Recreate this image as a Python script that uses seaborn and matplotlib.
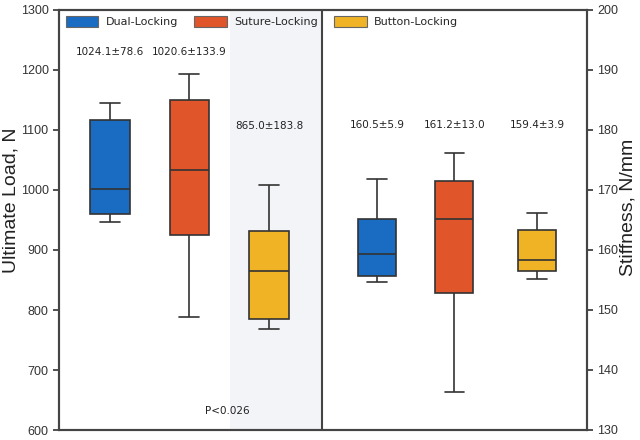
import pandas as pd
import matplotlib
matplotlib.use("Agg")
import matplotlib.pyplot as plt
from matplotlib.patches import Patch
import seaborn as sns

# groups and where the boxes sit on the shared x axis
groups = ["Dual-Locking", "Suture-Locking", "Button-Locking"]
colors = ["#1a6bc2", "#e0562a", "#efb325"]
load_pos = [0, 1, 2]
stiff_pos = [3.36, 4.33, 5.37]

# ultimate load (N): five-number summaries
load_min = [947, 788, 768]
load_q1 = [960, 925, 785]
load_med = [1002, 1033, 865]
load_q3 = [1117, 1150, 932]
load_max = [1145, 1193, 1008]
load_mean = [1024.1, 1020.6, 865.0]
load_sd = [78.6, 133.9, 183.8]

# stiffness (N/mm)
stiff_min = [154.6, 136.3, 155.2]
stiff_q1 = [155.6, 152.8, 156.5]
stiff_med = [159.4, 165.2, 158.4]
stiff_q3 = [165.2, 171.5, 163.3]
stiff_max = [171.8, 176.1, 166.2]
stiff_mean = [160.5, 161.2, 159.4]
stiff_sd = [5.9, 13.0, 3.9]


def long_form(pos, *cols):
    rows = []
    for i, g in enumerate(groups):
        for c in cols:
            rows.append({"group": g, "pos": pos[i], "value": c[i]})
    return pd.DataFrame(rows)


df_load = long_form(load_pos, load_min, load_q1, load_med, load_q3, load_max)
df_stiff = long_form(stiff_pos, stiff_min, stiff_q1, stiff_med, stiff_q3, stiff_max)

sns.set_style("ticks")
plt.rcParams["font.family"] = ["Liberation Sans", "DejaVu Sans"]

fig = plt.figure(figsize=(6.4, 4.4), dpi=100)
ax = fig.add_axes([59 / 640, 10 / 440, 528 / 640, 420 / 440])
ax2 = ax.twinx()

pal = dict(zip(groups, colors))
box_kw = dict(x="pos", y="value", hue="group", palette=pal, native_scale=True,
              whis=(0, 100), width=0.5, saturation=1, linecolor="#333333",
              linewidth=1.2, legend=False)

ax.axvspan(1.51, 2.67, color="#f3f4f8", zorder=0, lw=0)
sns.boxplot(data=df_load, ax=ax, **box_kw)
sns.boxplot(data=df_stiff, ax=ax2, **box_kw)
ax.axvline(2.67, color="#444444", lw=1.5, zorder=3)

ax.set_xlim(-0.64, 6.0)
ax2.set_xlim(-0.64, 6.0)
ax.set_ylim(600, 1300)
ax2.set_ylim(130, 200)
ax.set_yticks(range(600, 1301, 100))
ax2.set_yticks(range(130, 201, 10))
ax.set_xticks([])
ax.set_xlabel("")
ax2.set_xlabel("")

ax.set_ylabel("Ultimate Load, N", fontsize=14, color="#222222")
ax2.set_ylabel("Stiffness, N/mm", fontsize=14, color="#222222")
ax.yaxis.set_label_coords(-0.074, 0.548)
ax2.yaxis.set_label_coords(1.061, 0.531)
for a in (ax, ax2):
    a.tick_params(axis="y", labelsize=9, colors="#333333", length=4, width=1.2)
    for s in a.spines.values():
        s.set_color("#444444")
        s.set_linewidth(1.5)

# mean ± sd labels above the boxes
txt_kw = dict(ha="center", va="center", fontsize=7.5, color="#222222", family="DejaVu Sans")
for i in range(3):
    y = 1230 if i < 2 else 1107
    ax.text(load_pos[i], y, f"{load_mean[i]:.1f}\u00b1{load_sd[i]:.1f}", **txt_kw)
    ax2.text(stiff_pos[i], 180.8, f"{stiff_mean[i]:.1f}\u00b1{stiff_sd[i]:.1f}", **txt_kw)
ax.text(1.48, 632, "P<0.026", **txt_kw)

handles = [Patch(facecolor=c, edgecolor="#666666", lw=0.8, label=g) for g, c in zip(groups, colors)]
leg = ax2.legend(handles=handles, ncol=3, loc="upper left", frameon=False,
                 bbox_to_anchor=(7 / 528, 1 - 6 / 420), borderaxespad=0, borderpad=0,
                 handlelength=2.9, handleheight=1.2, handletextpad=0.7,
                 columnspacing=1.45, prop={"family": "DejaVu Sans", "size": 8})

fig.savefig("out.png", dpi=100)
